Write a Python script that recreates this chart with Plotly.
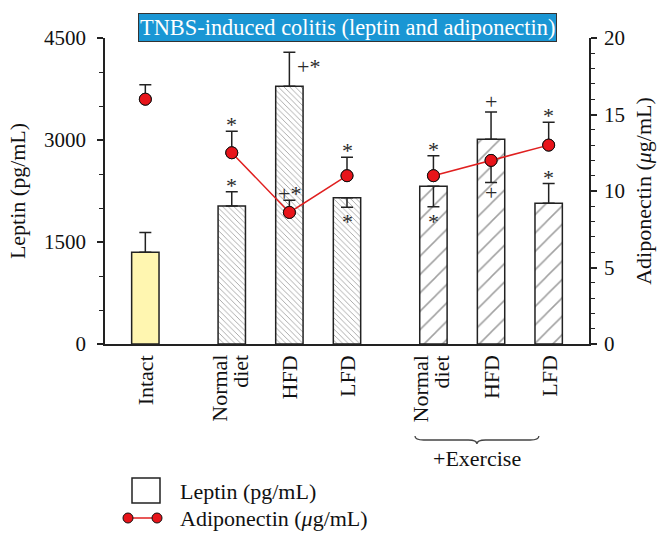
import plotly.graph_objects as go

# ---------------- data ----------------
categories = ["Intact", "Normal<br>diet", "HFD", "LFD", "Normal<br>diet", "HFD", "LFD"]
groups = [0, 1, 1, 1, 2, 2, 2]

leptin = [1350, 2030, 3790, 2150, 2320, 3010, 2070]
leptin_err_plus = [290, 210, 500, 0, 0, 400, 290]
leptin_err_minus = [0, 0, 0, 140, 300, 0, 0]

adiponectin = [16.0, 12.5, 8.6, 11.0, 11.0, 12.0, 13.0]
adipo_err_plus = [0.95, 1.4, 0.8, 1.2, 1.3, 0, 1.5]
adipo_err_minus = [0, 0, 0, 0, 0, 1.45, 0]

leptin_marks = ["", "*", "+*", "*", "*", "+", "*"]
leptin_mark_side = ["", "above", "right", "below", "below", "above", "above"]
adipo_marks = ["", "*", "+*", "*", "*", "+", "*"]
adipo_mark_side = ["", "above", "above", "above", "above", "below", "above"]

left_ticks = [0, 1500, 3000, 4500]
right_ticks = [0, 5, 10, 15, 20]

# ---------------- layout geometry ----------------
W, H = 671, 542
ML, MR, MT, MB = 105, 82, 38, 198
PW, PH = W - ML - MR, H - MT - MB


def px_x(px):
    return (px - ML) / PW


def px_y(py):
    return (H - MB - py) / PH


FONT = "Liberation Serif"
AX = "#222222"
RED = "#E8141A"
bar_colors = ["#FFF6B0"] + ["#FFFFFF"] * 6
pattern_shapes = ["", "\\", "\\", "\\", "/", "/", "/"]
pattern_sizes = [8, 4, 4, 4, 13, 13, 13]
pattern_solid = [0.2, 0.22, 0.22, 0.22, 0.12, 0.12, 0.12]

# category positions: one unit per bar, extra half-unit gap between groups
positions = [i + 0.5 * g for i, g in enumerate(groups)]

fig = go.Figure()

fig.add_trace(go.Bar(
    x=positions, y=leptin, width=0.475,
    marker=dict(color=bar_colors, line=dict(color=AX, width=1.5),
                pattern=dict(shape=pattern_shapes, size=pattern_sizes,
                             solidity=pattern_solid, fgcolor="#8c8c8c")),
    error_y=dict(type="data", symmetric=False, array=leptin_err_plus,
                 arrayminus=leptin_err_minus, color=AX, thickness=1.5, width=6),
    showlegend=False, name="Leptin (pg/mL)",
))

# adiponectin line, broken between groups
lx, ly = [], []
prev = None
for p, v, g in zip(positions, adiponectin, groups):
    if prev is not None and g != prev:
        lx.append(None)
        ly.append(None)
    lx.append(p)
    ly.append(v)
    prev = g

fig.add_trace(go.Scatter(
    x=positions, y=adiponectin, yaxis="y2", mode="markers",
    marker=dict(color=RED, size=12, line=dict(color="#111", width=1)),
    error_y=dict(type="data", symmetric=False, array=adipo_err_plus,
                 arrayminus=adipo_err_minus, color=AX, thickness=1.5, width=6),
    showlegend=False, name="Adiponectin",
))
fig.add_trace(go.Scatter(
    x=lx, y=ly, yaxis="y2", mode="lines+markers", connectgaps=False,
    line=dict(color="#E02020", width=1.5),
    marker=dict(color=RED, size=12, line=dict(color="#111", width=1)),
    showlegend=False, name="Adiponectin (μg/mL)",
))

annotations = []
MARK_FONT = dict(family=FONT, size=22, color="#2a2a2a")


def mark(x, y, yref, text, side):
    a = dict(x=x, y=y, xref="x", yref=yref, text=text, showarrow=False, font=MARK_FONT)
    plus_only = text == "+"
    if side == "above":
        a.update(yanchor="bottom", yshift=-8 + (4 if plus_only else 0))
    elif side == "below":
        a.update(yanchor="top", yshift=(5 if plus_only else 0))
    else:
        a.update(xanchor="left", yanchor="top", xshift=6, yshift=0)
    return a


for p, v, ep, em, t, s in zip(positions, leptin, leptin_err_plus, leptin_err_minus,
                              leptin_marks, leptin_mark_side):
    if t:
        annotations.append(mark(p, v + ep if s != "below" else v - em, "y", t, s))
for p, v, ep, em, t, s in zip(positions, adiponectin, adipo_err_plus, adipo_err_minus,
                              adipo_marks, adipo_mark_side):
    if t:
        annotations.append(mark(p, v + ep if s != "below" else v - em, "y2", t, s))

# category labels (rotated, each line top-aligned at the axis)
for p, c in zip(positions, categories):
    lines = c.split("<br>")
    n = len(lines)
    for k, line in enumerate(lines):
        annotations.append(dict(
            x=p, y=0, xref="x", yref="paper", text=line, showarrow=False,
            textangle=-90, xanchor="center", yanchor="top",
            xshift=(k - (n - 1) / 2) * 21 - (2 if n > 1 else 0), yshift=-9,
            font=dict(family=FONT, size=22, color="#111"),
        ))

# title box
annotations.append(dict(
    x=0.5, y=px_y(27.5), xref="paper", yref="paper", showarrow=False,
    text="TNBS-induced colitis (leptin and adiponectin)",
    font=dict(family=FONT, size=22.4, color="white"),
    bgcolor="#1A96D4", bordercolor="#333", borderwidth=1, borderpad=1,
    xanchor="center", yanchor="middle",
))

# +Exercise bracket label
ex_pos = [p for p, g in zip(positions, groups) if g == 2]
ex_left, ex_right = ex_pos[0] - 0.32, ex_pos[-1] - 0.17
ex_mid = (ex_left + ex_right) / 2
annotations.append(dict(
    x=ex_mid, y=px_y(458), xref="x", yref="paper", showarrow=False,
    text="+Exercise", font=dict(family=FONT, size=22, color="#111"),
    yanchor="middle",
))

yt, yb, ytip, d = px_y(436), px_y(440), px_y(444), 0.15
brace = (f"M{ex_left},{yt} Q{ex_left},{yb} {ex_left + d},{yb} "
         f"L{ex_mid - d},{yb} Q{ex_mid},{yb} {ex_mid},{ytip} "
         f"Q{ex_mid},{yb} {ex_mid + d},{yb} "
         f"L{ex_right - d},{yb} Q{ex_right},{yb} {ex_right},{yt}")

shapes = [dict(type="path", path=brace, xref="x", yref="paper",
               line=dict(color="#444", width=1.3))]

# legend (drawn)
shapes.append(dict(type="rect", xref="paper", yref="paper",
                   x0=px_x(132), x1=px_x(160), y0=px_y(503), y1=px_y(478),
                   line=dict(color=AX, width=1.5), fillcolor="white"))
shapes.append(dict(type="line", xref="paper", yref="paper",
                   x0=px_x(128), x1=px_x(157), y0=px_y(518), y1=px_y(518),
                   line=dict(color="#E02020", width=1.5)))
for cx in (128, 157):
    shapes.append(dict(type="circle", xref="paper", yref="paper",
                       xsizemode="pixel", ysizemode="pixel",
                       xanchor=px_x(cx), yanchor=px_y(518),
                       x0=-5, x1=5, y0=-5, y1=5,
                       fillcolor=RED, line=dict(color="#111", width=1)))
annotations.append(dict(x=px_x(178), y=px_y(491), xref="paper", yref="paper",
                        text="Leptin (pg/mL)", showarrow=False, xanchor="left",
                        yanchor="middle", font=dict(family=FONT, size=22, color="#111")))
annotations.append(dict(x=px_x(178), y=px_y(518), xref="paper", yref="paper",
                        text="Adiponectin (<i>μ</i>g/mL)", showarrow=False,
                        xanchor="left", yanchor="middle",
                        font=dict(family=FONT, size=22, color="#111")))

fig.update_layout(
    width=W, height=H,
    margin=dict(l=ML, r=MR, t=MT, b=MB),
    paper_bgcolor="white", plot_bgcolor="white",
    font=dict(family=FONT, size=21, color="#111"),
    showlegend=False,
    xaxis=dict(range=[-0.70, 7.70], tickvals=positions, showticklabels=False,
               showline=True, linecolor=AX, linewidth=1.5,
               ticks="", showgrid=False, zeroline=False),
    yaxis=dict(range=[0, 4500], tickvals=left_ticks, ticks="outside", ticklen=6,
               tickwidth=1.5, tickcolor=AX, showline=True, linecolor=AX,
               linewidth=1.5, showgrid=False, zeroline=False, ticklabelstandoff=7,
               minor=dict(dtick=500, ticks="outside", ticklen=4, tickcolor=AX,
                          tickwidth=1.2, showgrid=False),
               title=dict(text="Leptin (pg/mL)", font=dict(family=FONT, size=22),
                          standoff=12)),
    yaxis2=dict(range=[0, 20], tickvals=right_ticks, overlaying="y", side="right",
                ticks="outside", ticklen=6, tickwidth=1.5, tickcolor=AX,
                showline=True, linecolor=AX, linewidth=1.5, showgrid=False,
                zeroline=False, ticklabelstandoff=3,
                minor=dict(dtick=1, ticks="outside", ticklen=4, tickcolor=AX,
                           tickwidth=1.2, showgrid=False),
                title=dict(text="Adiponectin (<i>μ</i>g/mL)",
                           font=dict(family=FONT, size=22), standoff=12)),
    annotations=annotations,
    shapes=shapes,
)

fig.write_html("out.html", config={"displayModeBar": False},
               post_script="document.body.style.margin='0px';")
